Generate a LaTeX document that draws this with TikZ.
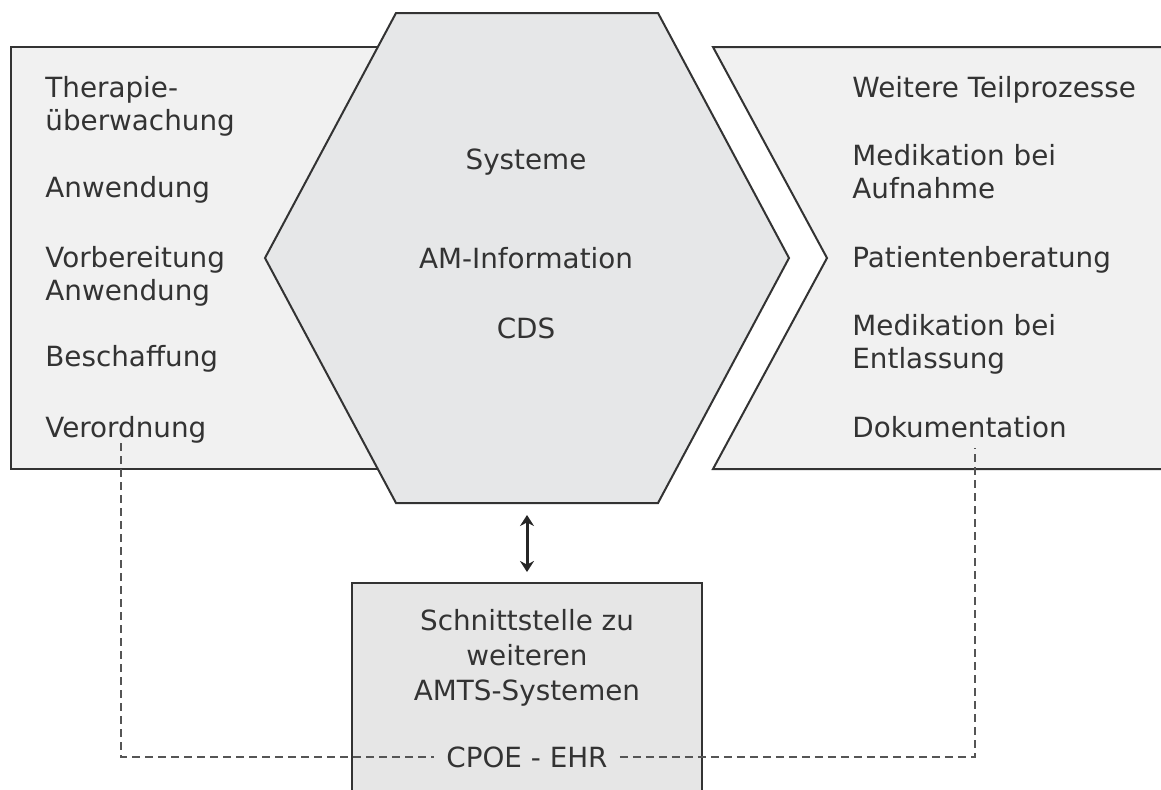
\documentclass[tikz,border=0pt]{standalone}
\usepackage{fontspec}
\setmainfont{DejaVu Sans}
\usetikzlibrary{arrows.meta, calc}
\definecolor{linegray}{HTML}{333333}
\definecolor{txtgray}{HTML}{333333}
\definecolor{boxgray}{HTML}{F1F1F1}
\definecolor{hexgray}{HTML}{E6E7E8}
\definecolor{ifgray}{HTML}{E6E6E6}
\definecolor{dashgray}{HTML}{555555}

\begin{document}
\begin{tikzpicture}
                [x=0.5pt, y=-0.5pt,
                every node/.style={text=txtgray, inner sep=0pt},
                lsty/.style={anchor=base west, align=left, font=\fontsize{13.9}{16.5}\selectfont},
                csty/.style={anchor=base, align=center, font=\fontsize{13.9}{17.5}\selectfont},
                psty/.style={draw=linegray, line width=1pt, fill=boxgray},
                hsty/.style={draw=linegray, line width=1pt, fill=hexgray},
                isty/.style={draw=linegray, line width=1pt, fill=ifgray},
                asty/.style={{Stealth[length=5.5pt, width=7pt]}-{Stealth[length=5.5pt, width=7pt]}, line width=1.5pt, draw=black!85},
                dsty/.style={dashed, dash pattern=on 4pt off 2.5pt, line width=0.8pt, draw=dashgray}]
                \path[use as bounding box, clip] (0,0) rectangle (1161,789);
                % shapes
                \draw[psty] (11,47) rectangle (520,469);
                \draw[psty] (713,47) -- (1180,47) -- (1180,469) -- (713,469) -- (827,258) -- cycle;
                \draw[hsty] (396,13) -- (658,13) -- (789,258) -- (658,503) -- (396,503) -- (265,258) -- cycle;
                \coordinate (hs) at (527,503);
                \draw[isty] (352,583) rectangle (702,820);
                \coordinate (ifn) at (527,583);
                % left process steps (base = last line)
                \node[lsty] (l1) at (45,130) {Therapie-\\überwachung};
                \node[lsty] (l2) at (45,197) {Anwendung};
                \node[lsty] (l3) at (45,300) {Vorbereitung\\Anwendung};
                \node[lsty] (l4) at (45,366) {Beschaffung};
                \node[lsty] (l5) at (45,437) {Verordnung};
                % right process steps
                \node[lsty] (r1) at (852,97)  {Weitere Teilprozesse};
                \node[lsty] (r2) at (852,198) {Medikation bei\\Aufnahme};
                \node[lsty] (r3) at (852,267) {Patientenberatung};
                \node[lsty] (r4) at (852,368) {Medikation bei\\Entlassung};
                \node[lsty] (r5) at (852,437) {Dokumentation};
                % systems
                \node[csty] (sys) at (526,169) {Systeme};
                \node[csty] (ami) at (526,268) {AM-Information};
                \node[csty] (cds) at (526,338) {CDS};
                % interface
                \node[csty] (iface) at (527,700) {Schnittstelle zu\\weiteren\\AMTS-Systemen};
                \node[csty, inner xsep=6pt, inner ysep=3pt] (cpoe) at (527,767) {CPOE - EHR};
                % connectors
                \draw[asty] ($(hs)+(0,12)$) -- ($(ifn)+(0,-11)$);
                \coordinate (ltap) at (121,443);
                \coordinate (rtap) at (975,448);
                \draw[dsty] (ltap) |- (cpoe.west);
                \draw[dsty] (cpoe.east) -| (rtap);
            \end{tikzpicture}
\end{document}
